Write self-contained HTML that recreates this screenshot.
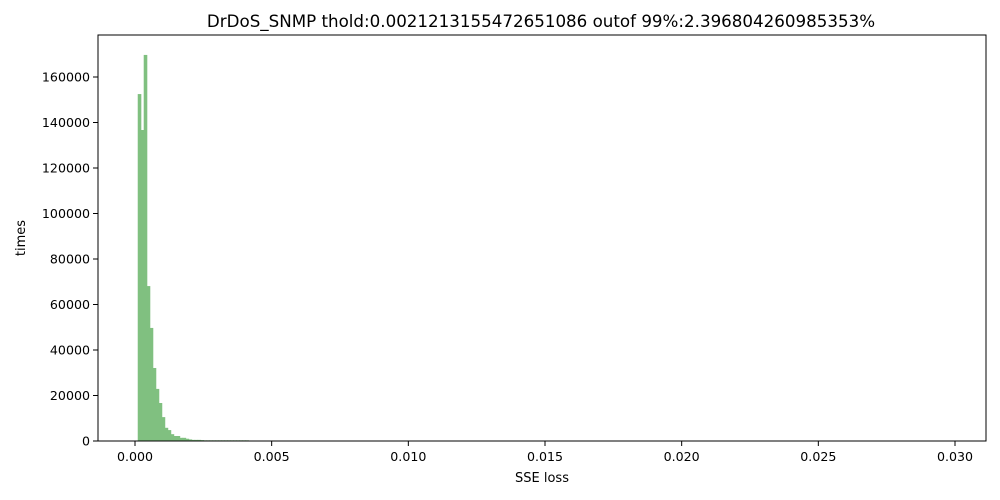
<!DOCTYPE html>
<html><head><meta charset="utf-8"><style>
body{margin:0;background:#fff;}
svg{display:block;font-family:"DejaVu Sans","Liberation Sans",sans-serif;}
</style></head><body>
<svg id="c" width="1000" height="500"></svg>
<script>
const binStart = 0.0001;
const binWidth = 0.0001094;
const counts = [152500,136700,169700,68100,49700,32100,22900,16700,10500,5800,4800,3000,2200,2200,1400,1400,1000,700,500,500,500,400,300,300,300,300,300,300,300,300,300,300,300,300,300,300,300,200,200,200,200];
const xTicks = [0,0.005,0.010,0.015,0.020,0.025,0.030];
const xTickLabels = ["0.000","0.005","0.010","0.015","0.020","0.025","0.030"];
const yTicks = [0,20000,40000,60000,80000,100000,120000,140000,160000];

const svg = document.getElementById('c');
const NS = 'http://www.w3.org/2000/svg';
const L=98,T=35,R=986,B=441;
const xs = v => 135 + v*(955-135)/0.030;
const ys = v => B - v*(B-77)/160000;
function mk(tag, attrs, text){const e=document.createElementNS(NS,tag);for(const k in attrs)e.setAttribute(k,attrs[k]);if(text!==undefined)e.textContent=text;svg.appendChild(e);return e;}

counts.forEach((c,i)=>{
  const x0=xs(binStart+i*binWidth), x1=xs(binStart+(i+1)*binWidth);
  const r=mk('rect',{x:x0,y:ys(c),width:x1-x0+0.6,height:B-ys(c),fill:'#80c080'});
  
  
});
const frame=mk('rect',{x:L,y:T,width:R-L,height:B-T,fill:'none',stroke:'#000','stroke-width':1});


xTicks.forEach((t,i)=>{
  const x=xs(t);
  const tk=mk('line',{x1:x,x2:x,y1:B,y2:B+5,stroke:'#000'});
  
  
  const lb=mk('text',{x:x,y:B+20,'text-anchor':'middle','font-size':12.6},xTickLabels[i]);
  
  
});
yTicks.forEach(t=>{
  const y=ys(t);
  const tk=mk('line',{x1:L-5,x2:L,y1:y,y2:y,stroke:'#000'});
  
  
  const lb=mk('text',{x:L-8,y:y+4.5,'text-anchor':'end','font-size':12.6},String(t));
  
  
});
const xt=mk('text',{x:542,y:482,'text-anchor':'middle','font-size':13},'SSE loss');


const yt=mk('text',{x:25,y:238,'text-anchor':'middle','font-size':13,transform:'rotate(-90 25 238)'},'times');


const tt=mk('text',{x:541,y:27,'text-anchor':'middle','font-size':16.7},'DrDoS_SNMP thold:0.0021213155472651086 outof 99%:2.396804260985353%');


</script>
</body></html>
